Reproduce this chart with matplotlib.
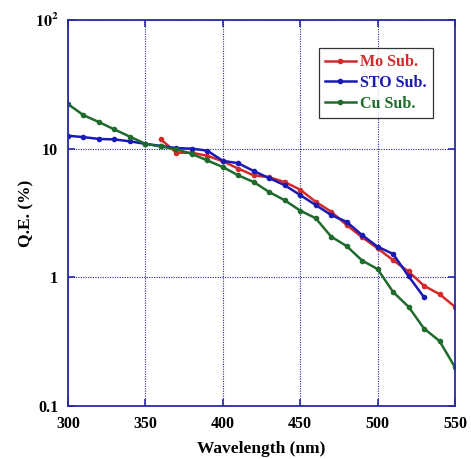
import numpy as np
import matplotlib
matplotlib.use("Agg")
import matplotlib.pyplot as plt
from matplotlib.ticker import NullLocator, FixedLocator

plt.rcParams['font.family'] = ['Liberation Serif', 'DejaVu Serif']
plt.rcParams['font.weight'] = 'bold'
plt.rcParams['mathtext.fontset'] = 'stix'

# Data
wl_mo = np.arange(360, 551, 10)
qe_mo = [11.8, 9.3, 9.3, 8.8, 7.98, 7.0, 6.2, 6.0, 5.5, 4.8,
         3.87, 3.24, 2.55, 2.05, 1.68, 1.36, 1.11, 0.86, 0.74, 0.59]

wl_sto = np.arange(300, 531, 10)
qe_sto = [12.6, 12.3, 11.9, 11.8, 11.4, 10.9, 10.5, 10.1, 10.0, 9.65,
          8.05, 7.7, 6.7, 5.9, 5.2, 4.36, 3.65, 3.05, 2.7, 2.13,
          1.73, 1.52, 1.02, 0.70]

wl_cu = np.arange(300, 551, 10)
qe_cu = [22.2, 18.2, 16.1, 14.1, 12.4, 10.9, 10.4, 9.9, 9.1, 8.1,
         7.2, 6.2, 5.5, 4.6, 3.97, 3.3, 2.88, 2.07, 1.75, 1.35,
         1.16, 0.77, 0.59, 0.40, 0.32, 0.20]

series = [
    ("Mo Sub.", wl_mo, qe_mo, "#d42a2a"),
    ("STO Sub.", wl_sto, qe_sto, "#1a1ab4"),
    ("Cu Sub.", wl_cu, qe_cu, "#1e6b2c"),
]

frame = "#2a2aa0"

fig = plt.figure(figsize=(4.71, 4.59), dpi=100)
ax = fig.add_axes([0.1444, 0.1155, 0.8216, 0.8409])

for label, x, y, c in series:
    ax.plot(x, y, color=c, lw=1.8, marker='o', ms=3, label=label)

ax.set_yscale('log')
ax.set_xlim(300, 550)
ax.set_ylim(0.1, 100)
ax.xaxis.set_major_locator(FixedLocator([300, 350, 400, 450, 500, 550]))
ax.yaxis.set_major_locator(FixedLocator([0.1, 1, 10, 100]))
ax.yaxis.set_minor_locator(NullLocator())
ax.set_yticklabels(['0.1', '1', '10', r'$\mathbf{10^{2}}$'])

ax.grid(True, which='major', color=frame, ls=(0, (1, 1.2)), lw=0.8)
ax.tick_params(direction='in', top=True, right=True, length=5, width=1.2,
               color=frame, labelsize=11.5, pad=7)
for s in ax.spines.values():
    s.set_color(frame)
    s.set_linewidth(1.3)

ax.set_xlabel("Wavelength (nm)", fontsize=12.5, fontweight='bold', labelpad=7)
ax.set_ylabel("Q.E. (%)", fontsize=12.5, fontweight='bold', labelpad=0)

leg = ax.legend(loc='upper right', bbox_to_anchor=(0.942, 0.928),
                borderaxespad=0, fancybox=False, edgecolor='black',
                fontsize=11.5, handlelength=1.9, handletextpad=0.25,
                labelspacing=0.3, borderpad=0.4)
leg.get_frame().set_linewidth(0.9)
for txt, (_, _, _, c) in zip(leg.get_texts(), series):
    txt.set_color(c)
    txt.set_fontweight('bold')

fig.savefig("out.png", dpi=100)
